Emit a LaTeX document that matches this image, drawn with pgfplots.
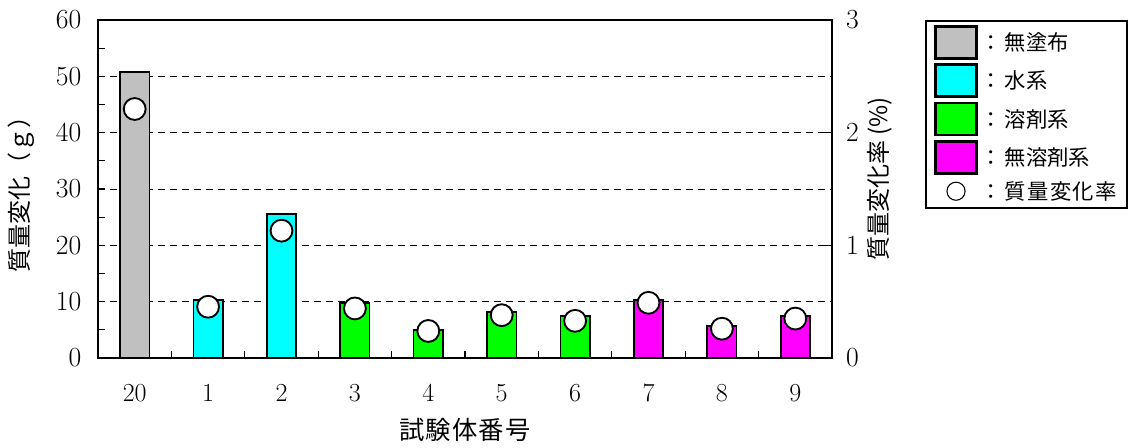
\documentclass[border=0pt]{standalone}
\usepackage{pgfplots}
\pgfplotsset{compat=1.18}
\usepackage{fontspec}
\newfontfamily\jp{Noto Sans CJK JP}
\definecolor{cgray}{HTML}{C0C0C0}
\definecolor{ccyan}{HTML}{00FFFF}
\definecolor{cgreen}{HTML}{00FF00}
\definecolor{cmag}{HTML}{FF00FF}
\pgfplotsset{
  swatch/.style={legend image code/.code={\draw[fill=#1, draw=black, line width=2pt] (0pt,-12pt) rectangle (31pt,12pt);}},
  barst/.style={ybar, bar width=0.4, bar shift=0pt, fill=#1, draw=black, line width=1.3pt},
  common/.style={
    scale only axis, width=550.5pt, height=253.5pt,
    at={(73.5pt,67.5pt)}, anchor=south west,
    xmin=-0.5, xmax=9.5,
    tick align=inside, major tick length=5pt, minor tick length=5pt,
    tick style={black, line width=0.9pt},
    tick label style={font=\fontsize{19.5}{21}\selectfont},
  }
}
\begin{document}
\begin{tikzpicture}
\useasboundingbox (0,0) rectangle (855.75pt,336pt);
\begin{axis}[common,
  ymin=0, ymax=60,
  ytick={0,10,...,60}, minor ytick={5,15,...,55},
  ytick pos=left, xtick pos=bottom,
  axis line style={line width=1.5pt},
  xtick={0.5,1.5,...,8.5}, xticklabels={},
  extra x ticks={0,1,2,3,4,5,6,7,8,9},
  extra x tick labels={20,1,2,3,4,5,6,7,8,9},
  extra x tick style={major tick length=0pt, grid=none, tick label style={yshift=-16pt}},
  yticklabel style={xshift=-9pt},
  ymajorgrids, major grid style={black, line width=0.6pt, dash pattern=on 5.5pt off 3.5pt},
  ylabel={\jp 質量変化（ｇ）},
  ylabel style={font=\fontsize{18}{20}\selectfont, at={(axis description cs:-0.104,0.5)}, anchor=center},
  xlabel={\jp 試\hspace{1pt}験\hspace{1pt}体\hspace{1pt}番\hspace{1pt}号},
  xlabel style={font=\fontsize{19}{21}\selectfont, at={(axis description cs:0.5,-0.213)}, anchor=center},
]
\addplot[barst=cgray] coordinates {(0,50.8)};
\addplot[barst=ccyan] coordinates {(1,10.3) (2,25.6)};
\addplot[barst=cgreen] coordinates {(3,9.7) (4,5.0) (5,8.2) (6,7.5)};
\addplot[barst=cmag] coordinates {(7,10.3) (8,5.7) (9,7.5)};
\end{axis}
\begin{axis}[common,
  ymin=0, ymax=3, ytick={0,1,2,3},
  hide x axis, axis y line*=right, axis line style={draw=none},
  yticklabel style={xshift=7pt},
  ylabel={\jp 質量変化率\hspace{4pt}(\%)},
  ylabel style={font=\fontsize{18}{20}\selectfont, at={(axis description cs:1.0654,0.53)}, anchor=center},
  legend style={at={(1.1267,1)}, anchor=north west, draw=black, line width=1.5pt,
    font=\fontsize{16}{18}\selectfont\jp, row sep=2.8pt, inner xsep=6pt, inner ysep=3pt},
  legend cell align=left,
]
\addlegendimage{swatch=cgray}
\addlegendentry{：\hspace{2pt}無塗布}
\addlegendimage{swatch=ccyan}
\addlegendentry{：\hspace{2pt}水系}
\addlegendimage{swatch=cgreen}
\addlegendentry{：\hspace{2pt}溶剤系}
\addlegendimage{swatch=cmag}
\addlegendentry{：\hspace{2pt}無溶剤系}
\addlegendimage{legend image code/.code={\draw[black, line width=0.8pt] (15.5pt,0pt) circle (6.8pt);}}
\addlegendentry{：\hspace{2pt}質\hspace{1pt}量\hspace{1pt}変\hspace{1pt}化\hspace{1pt}率\hspace{12pt}}
\addplot[only marks, mark=*, mark size=8.2pt, mark options={fill=white, draw=black, line width=1.4pt}, forget plot]
  coordinates {(0,2.21) (1,0.455) (2,1.13) (3,0.44) (4,0.24) (5,0.38) (6,0.33) (7,0.49) (8,0.26) (9,0.35)};
\end{axis}
\end{tikzpicture}
\end{document}
